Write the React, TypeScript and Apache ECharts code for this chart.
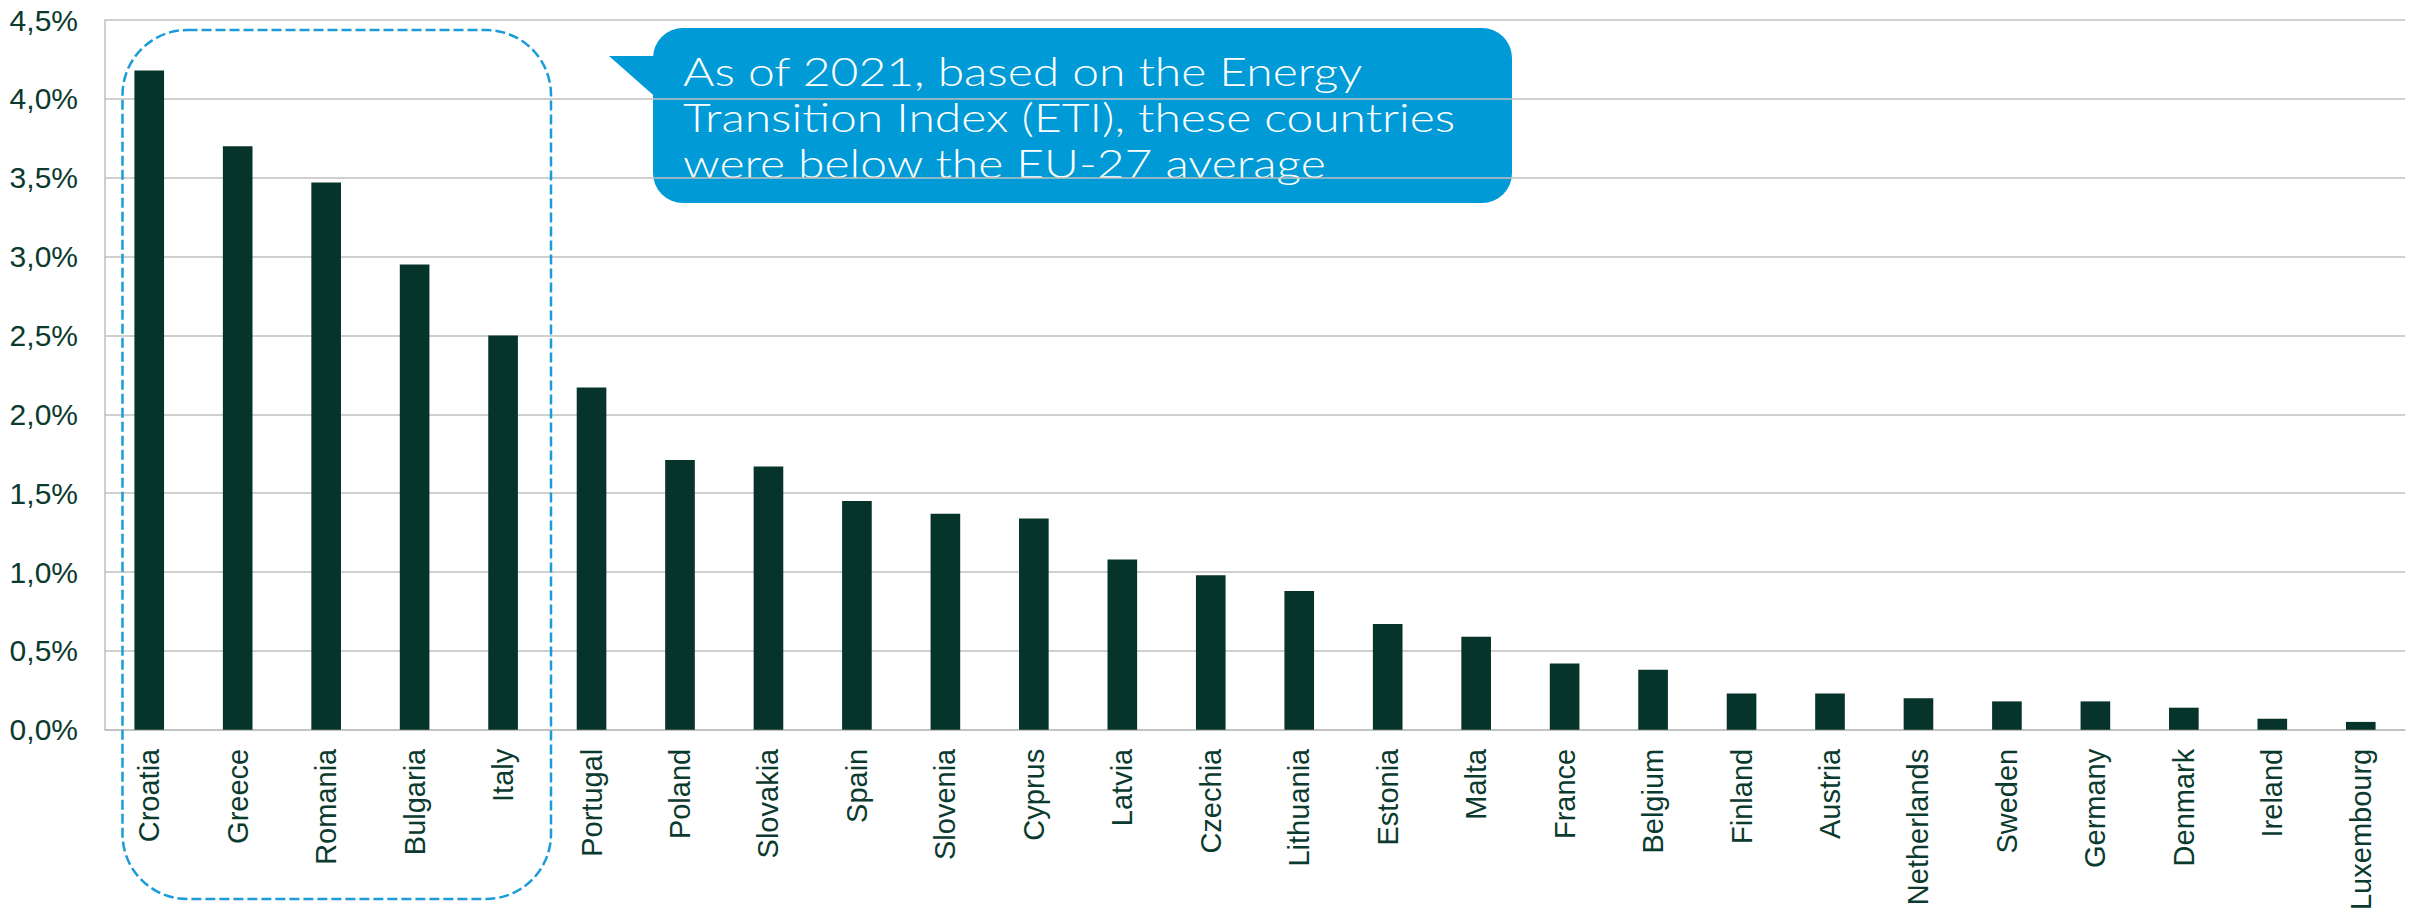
import React, { useEffect, useRef } from "react";
import * as echarts from "echarts";

const countries = [
  "Croatia", "Greece", "Romania", "Bulgaria", "Italy", "Portugal", "Poland", "Slovakia",
  "Spain", "Slovenia", "Cyprus", "Latvia", "Czechia", "Lithuania", "Estonia", "Malta",
  "France", "Belgium", "Finland", "Austria", "Netherlands", "Sweden", "Germany", "Denmark",
  "Ireland", "Luxembourg",
];

const values = [
  4.18, 3.7, 3.47, 2.95, 2.5, 2.17, 1.71, 1.67,
  1.45, 1.37, 1.34, 1.08, 0.98, 0.88, 0.67, 0.59,
  0.42, 0.38, 0.23, 0.23, 0.2, 0.18, 0.18, 0.14,
  0.07, 0.05,
];

const calloutLines = [
  "As of 2021, based on the Energy",
  "Transition Index (ETI), these countries",
  "were below the EU-27 average",
];

const TEXT = "#0b3a2e";
const BAR = "#06332a";
const GRID = "#bfbfbf";
const BLUE = "#009bd6";

export default function App() {
  const ref = useRef<HTMLDivElement>(null);
  useEffect(() => {
    if (!ref.current) return;
    const chart = echarts.init(ref.current, null, { renderer: "svg" });
    chart.setOption({
      animation: false,
      backgroundColor: "#ffffff",
      grid: { left: 105, right: 12, top: 20, bottom: 181, containLabel: false },
      xAxis: {
        type: "category",
        data: countries,
        axisLine: { show: true, lineStyle: { color: GRID, width: 1.5 } },
        axisTick: { show: false },
        axisLabel: {
          rotate: 90,
          margin: 19,
          color: TEXT,
          fontFamily: "Liberation Sans, Arial, sans-serif",
          fontSize: 29,
          interval: 0,
        },
      },
      yAxis: {
        type: "value",
        min: 0,
        max: 4.5,
        interval: 0.5,
        axisLine: { show: true, lineStyle: { color: GRID, width: 1.5 } },
        axisTick: { show: false },
        splitLine: { show: true, lineStyle: { color: GRID, width: 1.5 } },
        axisLabel: {
          margin: 27,
          color: TEXT,
          fontFamily: "Liberation Sans, Arial, sans-serif",
          fontSize: 30,
          formatter: (v: number) => v.toFixed(1).replace(".", ",") + "%",
        },
      },
      series: [
        {
          type: "bar",
          data: values,
          barWidth: "33.5%",
          itemStyle: { color: BAR },
        },
      ],
      graphic: [
        {
          type: "rect",
          z: 100,
          shape: { x: 122.5, y: 30, width: 428.5, height: 869, r: 65 },
          style: { fill: "none", stroke: "#1a9cd8", lineWidth: 2.5, lineDash: [10, 4] },
        },
        {
          type: "group",
          z: 110,
          children: [
            {
              type: "polygon",
              shape: { points: [[609, 56], [660, 56], [660, 101]] },
              style: { fill: BLUE },
            },
            {
              type: "rect",
              shape: { x: 653, y: 28, width: 859, height: 175, r: 30 },
              style: { fill: BLUE },
            },
            {
              type: "text",
              x: 683,
              y: 47,
              scaleX: 1.2,
              style: {
                text: calloutLines.join("\n"),
                fill: "#ffffff",
                fontFamily: "Lato, sans-serif",
                fontWeight: 300,
                fontSize: 40,
                lineHeight: 46,
                verticalAlign: "top",
                align: "left",
              },
            },
          ],
        },
      ],
    });
    return () => chart.dispose();
  }, []);
  return (
    <div
      ref={ref}
      style={{ position: "fixed", left: 0, top: 0, width: 2417, height: 913 }}
    />
  );
}
